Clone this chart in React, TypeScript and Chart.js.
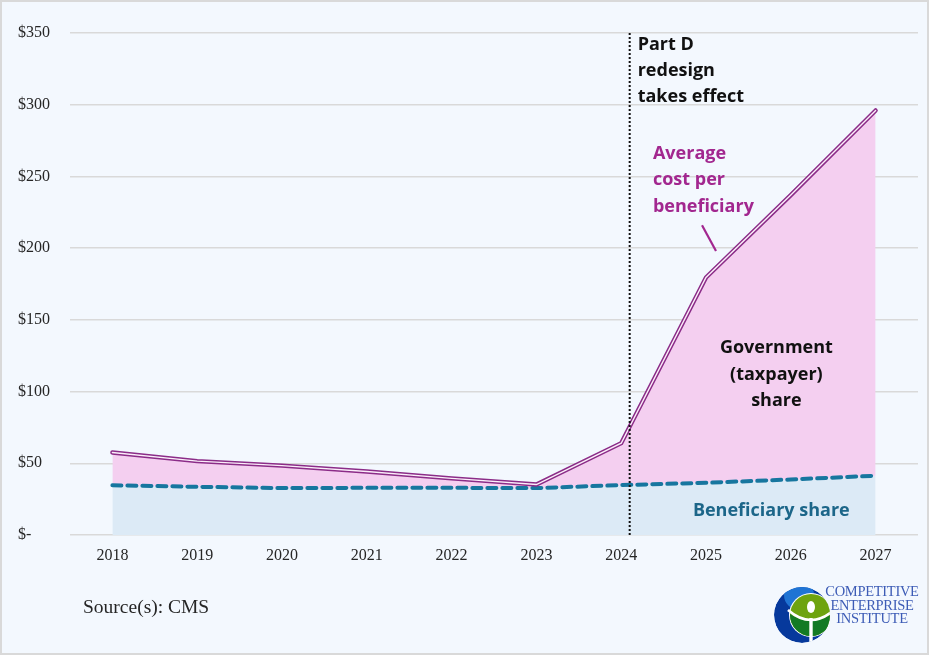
import React, { useEffect, useRef } from 'react';
import { Chart, registerables } from 'chart.js';

Chart.register(...registerables);

const years = ['2018', '2019', '2020', '2021', '2022', '2023', '2024', '2025', '2026', '2027'];
const totalCost = [57.5, 51.5, 48.4, 44.3, 39.5, 35.2, 64, 179.5, 237, 296];
const beneficiaryShare = [34.7, 33.6, 32.7, 32.9, 32.9, 32.7, 34.8, 36.4, 38.7, 41.3];
const yTickValues = [0, 50, 100, 150, 200, 250, 300, 350];
const redesignPosition = 6.1;

const partDLines = ['Part D', 'redesign', 'takes effect'];
const avgLines = ['Average', 'cost per', 'beneficiary'];
const govLines = ['Government', '(taxpayer)', 'share'];
const beneficiaryLabel = 'Beneficiary share';

const PURPLE = '#8b2c88';
const PINK_FILL = '#f4cff0';
const BLUE_FILL = '#dceaf6';
const TEAL = '#17769f';
const ANNOT_FONT = "'Open Sans', 'Noto Sans', sans-serif";

const annotationPlugin = {
  id: 'annotations',
  afterDatasetsDraw(chart: any) {
    const { ctx, scales } = chart;
    const x = scales.x;
    const y = scales.y;
    const px = (v: number) => x.getPixelForValue(v);
    const py = (v: number) => y.getPixelForValue(v);
    const area = chart.chartArea;
    ctx.save();
    // dotted vertical line
    const lx = px(redesignPosition);
    ctx.strokeStyle = '#111';
    ctx.lineWidth = 2;
    ctx.setLineDash([2, 2]);
    ctx.beginPath();
    ctx.moveTo(lx, area.top);
    ctx.lineTo(lx, area.bottom);
    ctx.stroke();
    ctx.setLineDash([]);

    ctx.textBaseline = 'middle';
    ctx.font = `bold 18px ${ANNOT_FONT}`;
    // Part D
    ctx.fillStyle = '#111';
    ctx.textAlign = 'left';
    partDLines.forEach((t, i) => {
      ctx.fillText(t, lx + 8, area.top + 12 + i * 26);
    });
    // Average cost per beneficiary
    ctx.fillStyle = '#a2278f';
    const ax = px(6.374);
    avgLines.forEach((t, i) => {
      ctx.fillText(t, ax, py(265.8) + i * 26.6);
    });
    ctx.strokeStyle = '#a2278f';
    ctx.lineWidth = 2.2;
    ctx.beginPath();
    ctx.moveTo(px(6.953), py(216));
    ctx.lineTo(px(7.118), py(198));
    ctx.stroke();
    // Government share
    ctx.fillStyle = '#111';
    ctx.textAlign = 'center';
    const gx = px(7.83);
    govLines.forEach((t, i) => {
      ctx.fillText(t, gx, py(130.5) + i * 26.6);
    });
    // Beneficiary share
    ctx.fillStyle = '#1c6689';
    ctx.fillText(beneficiaryLabel, px(7.77), py(16.5));
    ctx.restore();
  },
};

function Logo() {
  return (
    <div style={{ position: 'absolute', left: 770, top: 585, width: 160, height: 60 }}>
      <svg width="60" height="60" viewBox="0 0 60 60" style={{ position: 'absolute', left: 2, top: 0 }}>
        <defs>
          <clipPath id="outer">
            <circle cx="30" cy="30" r="28" />
          </clipPath>
          <clipPath id="green">
            <circle cx="39" cy="30" r="21" />
          </clipPath>
        </defs>
        <g clipPath="url(#outer)">
          <circle cx="30" cy="30" r="28" fill="#06399c" />
          <circle cx="27" cy="10" r="15" fill="#1f74d4" />
          <circle cx="39" cy="30" r="22" fill="#ffffff" />
          <circle cx="39" cy="30" r="21" fill="#6ea30f" />
          <g clipPath="url(#green)">
            <path d="M 14 26 Q 39 46 64 26 L 64 64 L 14 64 Z" fill="#137a24" />
          </g>
          <path d="M 16 25 Q 39 45 62 25" stroke="#ffffff" strokeWidth="2.6" fill="none" />
          <ellipse cx="39" cy="22" rx="4" ry="6" fill="#ffffff" />
          <line x1="39" y1="33" x2="39" y2="60" stroke="#ffffff" strokeWidth="3.4" />
        </g>
      </svg>
      <div
        style={{
          position: 'absolute',
          left: 52,
          top: 0,
          width: 100,
          textAlign: 'center',
          fontFamily: "'Liberation Serif', serif",
          fontSize: 14.5,
          lineHeight: '13.6px',
          color: '#3d5cb6',
          letterSpacing: '-0.3px',
          whiteSpace: 'nowrap',
        }}
      >
        <div>COMPETITIVE</div>
        <div>ENTERPRISE</div>
        <div>INSTITUTE</div>
      </div>
    </div>
  );
}

export default function App() {
  const canvasRef = useRef<HTMLCanvasElement | null>(null);

  useEffect(() => {
    document.body.style.margin = '0';
    const canvas = canvasRef.current;
    if (!canvas) return;
    const chart = new Chart(canvas, {
      type: 'line',
      data: {
        labels: years,
        datasets: [
          {
            label: 'inner',
            data: totalCost,
            borderColor: '#fbeefa',
            borderWidth: 1.4,
            pointRadius: 0,
            fill: false,
            tension: 0,
            borderCapStyle: 'round',
            borderJoinStyle: 'miter',
          },
          {
            label: 'Average cost per beneficiary',
            data: totalCost,
            borderColor: PURPLE,
            borderWidth: 4.4,
            pointRadius: 0,
            backgroundColor: PINK_FILL,
            fill: { target: 2 },
            tension: 0,
            borderCapStyle: 'round',
            borderJoinStyle: 'miter',
          },
          {
            label: 'Beneficiary share',
            data: beneficiaryShare,
            borderColor: TEAL,
            borderWidth: 4,
            borderDash: [9, 6],
            borderCapStyle: 'round',
            pointRadius: 0,
            backgroundColor: BLUE_FILL,
            fill: 'origin',
            tension: 0,
          },
        ],
      },
      options: {
        responsive: true,
        maintainAspectRatio: false,
        animation: false,
        layout: { padding: { left: 18, top: 33, right: 11, bottom: 80 } },
        plugins: {
          legend: { display: false },
          tooltip: { enabled: false },
          filler: { drawTime: 'beforeDatasetsDraw' },
        } as any,
        scales: {
          x: {
            type: 'category',
            offset: true,
            grid: { display: false },
            border: { display: false },
            ticks: {
              color: '#262626',
              font: { family: "'Liberation Serif', serif", size: 16 },
              padding: 3,
              maxRotation: 0,
            },
            afterFit: (s: any) => {
              s.height = 40;
            },
          },
          y: {
            min: 0,
            max: 350,
            afterBuildTicks: (s: any) => {
              s.ticks = yTickValues.map((v) => ({ value: v }));
            },
            grid: { color: '#d9d9d9', lineWidth: 1.5, drawTicks: false },
            border: { display: false },
            ticks: {
              color: '#262626',
              font: { family: "'Liberation Serif', serif", size: 16 },
              crossAlign: 'far',
              padding: 0,
              callback: (v: any) => (Number(v) === 0 ? '$-' : '$' + v),
            },
            afterFit: (s: any) => {
              s.width = 52;
            },
          },
        },
      },
      plugins: [annotationPlugin],
    });
    return () => chart.destroy();
  }, []);

  return (
    <div
      style={{
        position: 'absolute',
        left: 0,
        top: 0,
        width: 929,
        height: 655,
        background: '#f3f8fe',
        boxShadow: 'inset 0 0 0 2px #d9d9d9',
        overflow: 'hidden',
      }}
    >
      <div style={{ position: 'absolute', left: 0, top: 0, width: 929, height: 655 }}>
        <canvas ref={canvasRef} />
      </div>
      <div
        style={{
          position: 'absolute',
          left: 83,
          top: 594,
          fontFamily: "'Liberation Serif', serif",
          fontSize: 19.5,
          lineHeight: '26px',
          color: '#262626',
          whiteSpace: 'nowrap',
        }}
      >
        Source(s): CMS
      </div>
      <Logo />
    </div>
  );
}
